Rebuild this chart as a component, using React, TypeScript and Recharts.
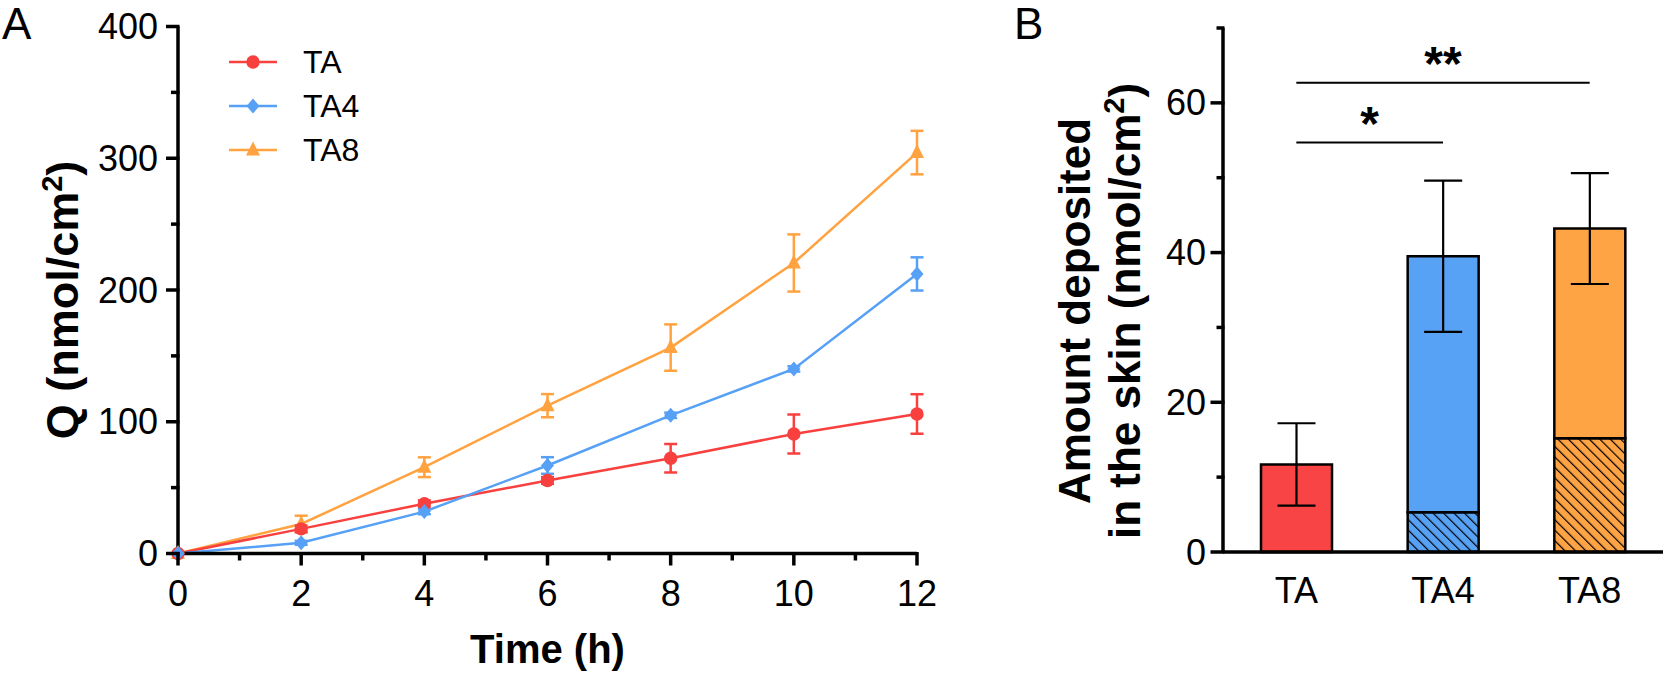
import React from 'react';
import {
  LineChart,
  Line,
  XAxis,
  YAxis,
  ErrorBar,
  Legend,
  BarChart,
  Bar,
  Cell,
  ReferenceLine,
} from 'recharts';

const FONT = '"Liberation Sans", Arial, Helvetica, sans-serif';

// ---------- Panel A data ----------
const timePoints = [0, 2, 4, 6, 8, 10, 12];
const taValues = [0, 18.7, 37.8, 55.4, 72.3, 90.7, 105.9];
const taErrors = [0, 2.5, 2.5, 2.5, 10.8, 14.8, 15.0];
const ta4Values = [0, 8.1, 31.8, 66.8, 104.9, 140.1, 212.2];
const ta4Errors = [0, 1.5, 2.0, 6.3, 2.0, 2.0, 12.6];
const ta8Values = [0, 22.4, 65.5, 112.2, 156.3, 220.5, 304.3];
const ta8Errors = [0, 6.3, 7.5, 8.8, 17.6, 21.7, 16.5];
const seriesNames = ['TA', 'TA4', 'TA8'];
const seriesColors = ['#F8403F', '#56A0F6', '#FFA23F'];
const markerKinds = ['circle', 'diamond', 'triangle'];
const xTicksA = [0, 1, 2, 3, 4, 5, 6, 7, 8, 9, 10, 11, 12];
const yTicksA = [0, 50, 100, 150, 200, 250, 300, 350, 400];

// ---------- Panel B data ----------
const groups = ['TA', 'TA4', 'TA8'];
const depositTotal = [11.7, 39.5, 43.2];
const depositHatched = [0, 5.3, 15.2];
const depositErr = [5.5, 10.1, 7.4];
const barColors = ['#F84444', '#58A2F6', '#FFA444'];
const yTicksB = [0, 10, 20, 30, 40, 50, 60, 70];
const sigFrom = ['TA', 'TA'];
const sigTo = ['TA4', 'TA8'];
const sigLevel = [54.7, 62.7];
const sigMarks = ['*', '**'];

const lineData = timePoints.map((t, i) => ({
  time: t,
  TA: taValues[i],
  TA_err: taErrors[i],
  TA4: ta4Values[i],
  TA4_err: ta4Errors[i],
  TA8: ta8Values[i],
  TA8_err: ta8Errors[i],
}));

const barData = groups.map((g, i) => ({
  group: g,
  hatched: depositHatched[i],
  solid: depositTotal[i] - depositHatched[i],
  err: depositErr[i],
}));

const axisStyle = { stroke: '#000', strokeWidth: 3.5 };

const Marker = ({ kind, cx, cy, color }: any) => {
  if (cx == null || cy == null) return null;
  if (kind === 'circle') return <circle cx={cx} cy={cy} r={6.7} fill={color} />;
  if (kind === 'diamond')
    return (
      <path
        d={`M${cx},${cy - 7.5} L${cx + 6.5},${cy} L${cx},${cy + 7.5} L${cx - 6.5},${cy} Z`}
        fill={color}
      />
    );
  return (
    <path d={`M${cx},${cy - 8.5} L${cx + 7},${cy + 5.5} L${cx - 7},${cy + 5.5} Z`} fill={color} />
  );
};

const YTickA = (props: any) => {
  const { x, y, payload } = props;
  const major = payload.value % 100 === 0;
  const len = major ? 12 : 7;
  return (
    <g>
      <line x1={x - len} x2={x + 1.5} y1={y} y2={y} stroke="#000" strokeWidth={3.5} />
      {major && (
        <text x={x - 20} y={y} dy="0.35em" textAnchor="end" fontSize={36} fontFamily={FONT} fill="#000">
          {payload.value}
        </text>
      )}
    </g>
  );
};

const XTickA = (props: any) => {
  const { x, y, payload } = props;
  const major = payload.value % 2 === 0;
  const len = major ? 12 : 7;
  return (
    <g>
      <line x1={x} x2={x} y1={y - 1.5} y2={y + len} stroke="#000" strokeWidth={3.5} />
      {major && (
        <text x={x} y={y + 52} textAnchor="middle" fontSize={36} fontFamily={FONT} fill="#000">
          {payload.value}
        </text>
      )}
    </g>
  );
};

const YTickB = (props: any) => {
  const { x, y, payload } = props;
  const major = payload.value % 20 === 0;
  const len = major ? 12.5 : 6.5;
  return (
    <g>
      <line x1={x - len} x2={x + 1.5} y1={y} y2={y} stroke="#000" strokeWidth={3.5} />
      {major && (
        <text x={x - 17} y={y} dy="0.35em" textAnchor="end" fontSize={36} fontFamily={FONT} fill="#000">
          {payload.value}
        </text>
      )}
    </g>
  );
};

const XTickB = (props: any) => {
  const { x, y, payload } = props;
  return (
    <text x={x} y={y + 51} textAnchor="middle" fontSize={36} fontFamily={FONT} fill="#000">
      {payload.value}
    </text>
  );
};

const QTitle = () => (
  <text
    x={78}
    y={300}
    transform="rotate(-90 78 300)"
    textAnchor="middle"
    fontSize={45}
    fontWeight="bold"
    fontFamily={FONT}
    fill="#000"
  >
    Q (nmol/cm
    <tspan dy={-16} fontSize={29}>
      2
    </tspan>
    <tspan dy={16}>)</tspan>
  </text>
);

const TimeTitle = () => (
  <text x={547.5} y={663} textAnchor="middle" fontSize={40} fontWeight="bold" fontFamily={FONT} fill="#000">
    Time (h)
  </text>
);

const BTitle = () => (
  <g>
    <text
      x={150}
      y={311}
      transform="rotate(-90 150 311)"
      textAnchor="middle"
      fontSize={44}
      fontWeight="bold"
      fontFamily={FONT}
      fill="#000"
    >
      Amount deposited
    </text>
    <text
      x={200}
      y={311}
      transform="rotate(-90 200 311)"
      textAnchor="middle"
      fontSize={44}
      fontWeight="bold"
      fontFamily={FONT}
      fill="#000"
    >
      in the skin (nmol/cm
      <tspan dy={-16} fontSize={29}>
        2
      </tspan>
      <tspan dy={16}>)</tspan>
    </text>
  </g>
);

const LegendContent = (props: any) => {
  const payload: any[] = props.payload || [];
  const items = seriesNames
    .map((n) => payload.find((p) => p.value === n))
    .filter(Boolean);
  return (
    <svg width={150} height={132}>
      {items.map((item: any, i: number) => {
        const cy = 22 + i * 44;
        const idx = seriesNames.indexOf(item.value);
        return (
          <g key={item.value}>
            <line x1={0} x2={48} y1={cy} y2={cy} stroke={item.color} strokeWidth={2.5} />
            <Marker kind={markerKinds[idx]} cx={24} cy={cy} color={item.color} />
            <text x={74} y={cy} dy="0.35em" fontSize={32} fontFamily={FONT} fill="#000">
              {item.value}
            </text>
          </g>
        );
      })}
    </svg>
  );
};

const drawOrder = [2, 0, 1];
const HATCH = 7.4;

export default function App() {
  return (
    <div
      style={{
        position: 'absolute',
        left: 0,
        top: 0,
        width: 1667,
        height: 676,
        background: '#fff',
        fontFamily: FONT,
        overflow: 'hidden',
      }}
    >
      <svg width={0} height={0} style={{ position: 'absolute' }}>
        <defs>
          {barColors.map((c, i) => (
            <pattern
              key={i}
              id={`hatch-${i}`}
              patternUnits="userSpaceOnUse"
              width={HATCH}
              height={HATCH}
              patternTransform="rotate(-45)"
            >
              <rect width={HATCH} height={HATCH} fill={c} />
              <line x1={0} y1={0} x2={0} y2={HATCH} stroke="#000" strokeWidth={2.4} />
            </pattern>
          ))}
        </defs>
      </svg>

      <svg width={1667} height={60} style={{ position: 'absolute', left: 0, top: 0 }}>
        <text x={2} y={39} fontSize={44} fontFamily={FONT} fill="#000">
          A
        </text>
        <text x={1014} y={39} fontSize={44} fontFamily={FONT} fill="#000">
          B
        </text>
      </svg>

      {/* Panel A */}
      <div style={{ position: 'absolute', left: 0, top: 0 }}>
        <LineChart
          width={940}
          height={676}
          data={lineData}
          margin={{ top: 26.5, right: 23, bottom: 0, left: 0 }}
        >
          <XAxis
            type="number"
            dataKey="time"
            domain={[0, 12]}
            ticks={xTicksA}
            interval={0}
            tickSize={0}
            tickMargin={0}
            tickLine={false}
            axisLine={axisStyle}
            tick={(p: any) => <XTickA {...p} />}
            height={122.5}
            label={<TimeTitle />}
          />
          <YAxis
            type="number"
            domain={[0, 400]}
            ticks={yTicksA}
            interval={0}
            tickSize={0}
            tickMargin={0}
            tickLine={false}
            axisLine={axisStyle}
            tick={(p: any) => <YTickA {...p} />}
            width={178}
            label={<QTitle />}
          />
          <Legend
            layout="vertical"
            align="center"
            verticalAlign="middle"
            content={(p: any) => <LegendContent {...p} />}
            wrapperStyle={{ left: 229, top: 40, width: 150, height: 132 }}
          />
          {drawOrder.map((i) => {
            const name = seriesNames[i];
            const color = seriesColors[i];
            return (
              <Line
                key={name}
                name={name}
                dataKey={name}
                type="linear"
                stroke={color}
                strokeWidth={2.5}
                isAnimationActive={false}
                activeDot={false}
                dot={(p: any) => (
                  <Marker key={`${name}-${p.index}`} kind={markerKinds[i]} cx={p.cx} cy={p.cy} color={color} />
                )}
              >
                <ErrorBar
                  dataKey={`${name}_err`}
                  width={6.5}
                  stroke={color}
                  strokeWidth={2.5}
                  direction="y"
                  isAnimationActive={false}
                />
              </Line>
            );
          })}
        </LineChart>
      </div>

      {/* Panel B */}
      <div style={{ position: 'absolute', left: 940, top: 0 }}>
        <BarChart
          width={727}
          height={676}
          data={barData}
          margin={{ top: 28, right: 4, bottom: 0, left: 0 }}
          barSize={71}
        >
          <XAxis
            dataKey="group"
            tickSize={0}
            tickMargin={0}
            tickLine={false}
            axisLine={axisStyle}
            tick={(p: any) => <XTickB {...p} />}
            interval={0}
            height={124}
          />
          <XAxis
            xAxisId="top"
            orientation="top"
            dataKey="group"
            height={0}
            tick={false}
            tickLine={false}
            axisLine={axisStyle}
          />
          <YAxis
            type="number"
            domain={[0, 70]}
            ticks={yTicksB}
            interval={0}
            tickSize={0}
            tickMargin={0}
            tickLine={false}
            axisLine={axisStyle}
            tick={(p: any) => <YTickB {...p} />}
            width={283}
            label={<BTitle />}
          />
          <YAxis
            yAxisId="right"
            orientation="right"
            type="number"
            domain={[0, 70]}
            width={0}
            tick={false}
            tickLine={false}
            axisLine={axisStyle}
          />
          <Bar dataKey="hatched" stackId="dep" stroke="#000" strokeWidth={2.5} isAnimationActive={false}>
            {barData.map((d, i) => (
              <Cell key={d.group} fill={`url(#hatch-${i})`} />
            ))}
          </Bar>
          <Bar dataKey="solid" stackId="dep" stroke="#000" strokeWidth={2.5} isAnimationActive={false}>
            {barData.map((d, i) => (
              <Cell key={d.group} fill={barColors[i]} />
            ))}
            <ErrorBar dataKey="err" width={19} stroke="#000" strokeWidth={2.2} direction="y" isAnimationActive={false} />
          </Bar>
          {sigMarks.map((m, i) => (
            <ReferenceLine
              key={m}
              segment={[
                { x: sigFrom[i], y: sigLevel[i] },
                { x: sigTo[i], y: sigLevel[i] },
              ]}
              stroke="#000"
              strokeWidth={2}
              label={{
                value: m,
                position: 'top',
                offset: 3,
                fontSize: 48,
                fontWeight: 'bold',
                fill: '#000',
                fontFamily: FONT,
              }}
            />
          ))}
        </BarChart>
      </div>
    </div>
  );
}
